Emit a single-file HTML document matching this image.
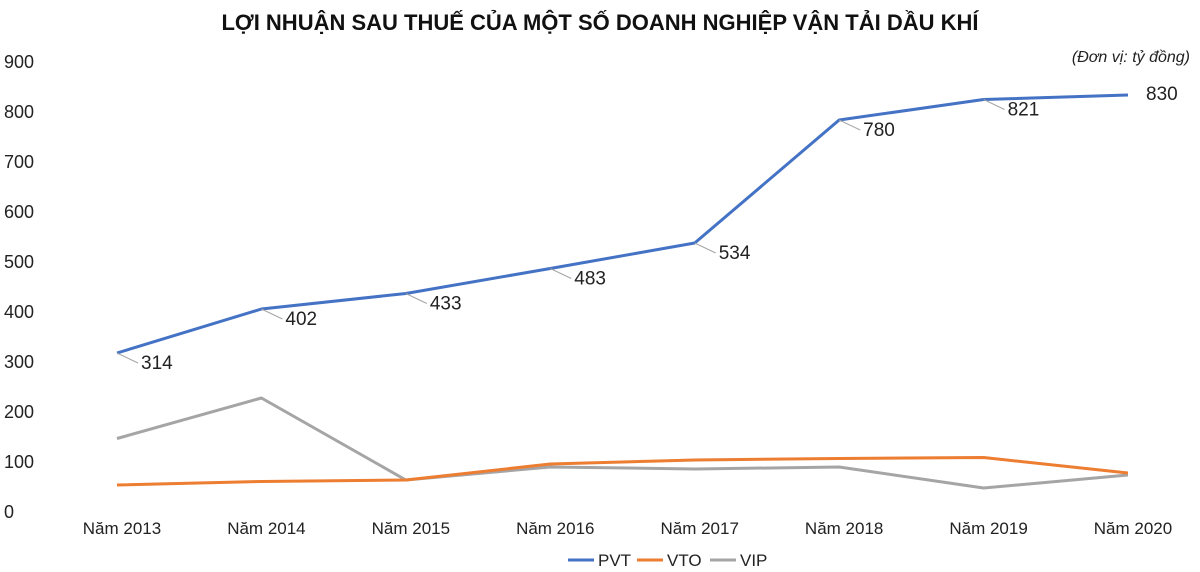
<!DOCTYPE html>
<html><head><meta charset="utf-8"><style>
body{margin:0;background:#fff;font-family:"Liberation Sans",sans-serif;}
svg{display:block}
</style></head><body>
<svg width="1200" height="572">
<text x="600" y="30" text-anchor="middle" font-size="22" font-weight="bold" fill="#111">LỢI NHUẬN SAU THUẾ CỦA MỘT SỐ DOANH NGHIỆP VẬN TẢI DẦU KHÍ</text>
<text x="1190" y="62" text-anchor="end" font-size="16" font-style="italic" fill="#222">(Đơn vị: tỷ đồng)</text>
<g id="axes"></g><g id="series"></g><g id="labels"></g>
<g>
<line x1="568" y1="560" x2="594" y2="560" stroke="#4472c4" stroke-width="3"/><text x="598" y="566" font-size="17" fill="#222">PVT</text>
<line x1="637" y1="560" x2="663" y2="560" stroke="#ed7d31" stroke-width="3"/><text x="667" y="566" font-size="17" fill="#222">VTO</text>
<line x1="710" y1="560" x2="736" y2="560" stroke="#a5a5a5" stroke-width="3"/><text x="740" y="566" font-size="17" fill="#222">VIP</text>
</g>
</svg>
<script>
const categories=["Năm 2013","Năm 2014","Năm 2015","Năm 2016","Năm 2017","Năm 2018","Năm 2019","Năm 2020"];
const pvt=[314,402,433,483,534,780,821,830];
const vto=[50,57,60,92,100,103,105,74];
const vip=[143,224,60,86,82,86,44,70];
const yTicks=[0,100,200,300,400,500,600,700,800,900];
const NS="http://www.w3.org/2000/svg";
const x=i=>117+i*(1128-117)/(categories.length-1);
const y=v=>510-v*0.5;
function mk(t,a,p){const e=document.createElementNS(NS,t);for(const k in a)e.setAttribute(k,a[k]);p.appendChild(e);return e;}
const ax=document.getElementById('axes');
yTicks.forEach(t=>{const e=mk('text',{x:4,y:y(t)+8,'font-size':18,fill:'#222'},ax);e.textContent=t;

});
categories.forEach((c,i)=>{const e=mk('text',{x:x(i)+5,y:534,'text-anchor':'middle','font-size':17,fill:'#222'},ax);e.textContent=c;

});
const sg=document.getElementById('series');
[[vip,'#a5a5a5','line-vip'],[vto,'#ed7d31','line-vto'],[pvt,'#4472c4','line-pvt']].forEach(([d,c,n])=>{
const p=mk('polyline',{points:d.map((v,i)=>x(i)+','+y(v)).join(' '),fill:'none',stroke:c,'stroke-width':3,'stroke-linejoin':'round'},sg);

});
const lg=document.getElementById('labels');
pvt.forEach((v,i)=>{const last=i===pvt.length-1;const px=x(i),py=y(v);
const tx=last?px+18:px+24,ty=last?py+5:py+16;
if(!last)mk('line',{x1:px,y1:py,x2:tx-3,y2:ty-6,stroke:'#a5a5a5','stroke-width':1},lg);
const e=mk('text',{x:tx,y:ty,'font-size':19,fill:'#222'},lg);e.textContent=v;

});
</script>
</body></html>
